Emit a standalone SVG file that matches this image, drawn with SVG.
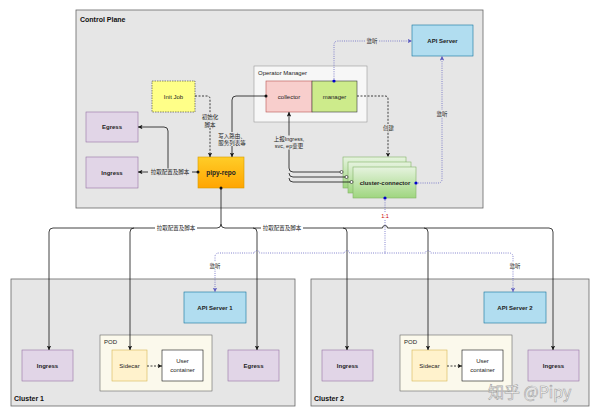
<svg xmlns="http://www.w3.org/2000/svg" width="600" height="417" viewBox="0 0 600 417">
<defs>
<style>
.t{font-family:"Liberation Sans","Noto Sans CJK SC",sans-serif;font-size:6px;fill:#222;text-anchor:middle;dominant-baseline:central}
.b{font-weight:bold}
.title{font-family:"Liberation Sans",sans-serif;font-size:7px;font-weight:bold;fill:#111}
.cjk{font-family:"Liberation Sans","Noto Sans CJK SC",sans-serif;font-size:5.5px;fill:#222;text-anchor:middle;dominant-baseline:central}
.ln{fill:none;stroke:#111;stroke-width:0.8}
.dsh{fill:none;stroke:#111;stroke-width:0.8;stroke-dasharray:2,1.5}
.dot{fill:none;stroke:#6a6ac4;stroke-width:0.9;stroke-dasharray:0.9,1.3}
.lav{fill:#e1d5e7;stroke:#9673a6;stroke-width:0.6}
.blue{fill:#b1ddf0;stroke:#10739e;stroke-width:0.6}
.grp{fill:#e6e6e6;stroke:#666;stroke-width:0.8}
</style>
<linearGradient id="gOr" x1="0" y1="0" x2="0" y2="1"><stop offset="0" stop-color="#ffcd28"/><stop offset="1" stop-color="#ffa500"/></linearGradient>
<linearGradient id="gGr" x1="0" y1="0" x2="0" y2="1"><stop offset="0" stop-color="#e6f3df"/><stop offset="1" stop-color="#9fd67f"/></linearGradient>
<marker id="arr" viewBox="0 0 8 8" refX="8" refY="4" markerWidth="4.5" markerHeight="4.5" orient="auto" markerUnits="userSpaceOnUse"><path d="M0,0 L8,4 L0,8 L2,4 z" fill="#111"/></marker>
<marker id="arrB" viewBox="0 0 8 8" refX="8" refY="4" markerWidth="4.5" markerHeight="4.5" orient="auto" markerUnits="userSpaceOnUse"><path d="M0,0 L8,4 L0,8 L2,4 z" fill="#5a5abf"/></marker>
</defs>
<rect width="600" height="417" fill="#fff"/>

<g id="control-plane"><rect class="grp" x="76" y="10" width="407" height="198"/><text class="title" x="80" y="22">Control Plane</text></g>
<g id="cluster-1"><rect class="grp" x="11" y="279" width="284" height="127"/><text class="title" x="14" y="401">Cluster 1</text></g>
<g id="cluster-2"><rect class="grp" x="311" y="279" width="278" height="127"/><text class="title" x="314" y="401">Cluster 2</text></g>

<g id="operator-manager"><rect x="254" y="66" width="113" height="56" fill="#f7f7f7" stroke="#999" stroke-width="0.6"/><text class="t" x="258" y="73" style="text-anchor:start">Operator Manager</text></g>
<g id="collector"><rect x="266" y="81" width="46" height="31" fill="#f8cecc" stroke="#b85450" stroke-width="0.6"/><text class="t" x="289" y="96.5">collector</text></g>
<g id="manager"><rect x="312" y="81" width="45" height="31" fill="#cdeb8b" stroke="#36393d" stroke-width="0.6"/><text class="t" x="334.5" y="96.5">manager</text></g>
<g id="api-server"><rect class="blue" x="412" y="25" width="61" height="31"/><text class="t b" x="442.5" y="40.5">API Server</text></g>
<g id="init-job"><rect x="152" y="81" width="43" height="31" fill="#ffff88" stroke="#36393d" stroke-width="0.6" stroke-dasharray="1.5,1"/><text class="t" x="173.5" y="96.5">Init Job</text></g>
<g id="cp-egress"><rect class="lav" x="86" y="112" width="52" height="30"/><text class="t b" x="112" y="127">Egress</text></g>
<g id="cp-ingress"><rect class="lav" x="86" y="157" width="52" height="31"/><text class="t b" x="112" y="172.5">Ingress</text></g>
<g id="pipy-repo"><rect x="198" y="157" width="46" height="31" fill="url(#gOr)" stroke="#d79b00" stroke-width="0.6"/><text class="t b" x="221" y="172.5" style="font-size:6.5px">pipy-repo</text></g>
<g id="cluster-connector">
<rect x="343" y="157" width="63" height="31" fill="url(#gGr)" stroke="#82b366" stroke-width="0.6"/>
<rect x="348" y="162" width="63" height="31" fill="url(#gGr)" stroke="#82b366" stroke-width="0.6"/>
<rect x="353" y="167" width="63" height="31" fill="url(#gGr)" stroke="#82b366" stroke-width="0.6"/>
<text class="t b" x="385" y="182.5">cluster-connector</text></g>

<g id="api-server-1"><rect class="blue" x="184" y="292" width="62" height="31"/><text class="t b" x="215" y="307.5">API Server 1</text></g>
<g id="c1-ingress"><rect class="lav" x="22" y="350" width="51" height="31"/><text class="t b" x="47.5" y="365.5">Ingress</text></g>
<g id="c1-pod"><rect x="100" y="335" width="112" height="56" fill="#fbf9ec" stroke="#666" stroke-width="0.6"/><text class="t" x="104" y="342" style="text-anchor:start">POD</text></g>
<g id="c1-sidecar"><rect x="112" y="350" width="35" height="31" fill="#fff2cc" stroke="#d6b656" stroke-width="0.6"/><text class="t" x="129.5" y="365.5">Sidecar</text></g>
<g id="c1-user"><rect x="162" y="350" width="41" height="31" fill="#fff" stroke="#111" stroke-width="0.6"/><text class="t" x="182.5" y="361">User</text><text class="t" x="182.5" y="369.5">container</text></g>
<g id="c1-egress"><rect class="lav" x="228" y="350" width="51" height="31"/><text class="t b" x="253.5" y="365.5">Egress</text></g>

<g id="api-server-2"><rect class="blue" x="484" y="292" width="62" height="31"/><text class="t b" x="515" y="307.5">API Server 2</text></g>
<g id="c2-ingress"><rect class="lav" x="322" y="350" width="51" height="31"/><text class="t b" x="347.5" y="365.5">Ingress</text></g>
<g id="c2-pod"><rect x="400" y="335" width="112" height="56" fill="#fbf9ec" stroke="#666" stroke-width="0.6"/><text class="t" x="404" y="342" style="text-anchor:start">POD</text></g>
<g id="c2-sidecar"><rect x="412" y="350" width="35" height="31" fill="#fff2cc" stroke="#d6b656" stroke-width="0.6"/><text class="t" x="429.5" y="365.5">Sidecar</text></g>
<g id="c2-user"><rect x="462" y="350" width="41" height="31" fill="#fff" stroke="#111" stroke-width="0.6"/><text class="t" x="482.5" y="361">User</text><text class="t" x="482.5" y="369.5">container</text></g>
<g id="c2-ingress-2"><rect class="lav" x="528" y="350" width="51" height="31"/><text class="t b" x="553.5" y="365.5">Ingress</text></g>

<g id="connectors">
<!-- manager -> API Server -->
<path class="dot" d="M334,81 V45 Q334,41 338,41 H412" marker-end="url(#arrB)"/>
<circle cx="334" cy="81" r="1.6" fill="#0000cc"/>
<rect x="365" y="37.5" width="14" height="7" fill="#e6e6e6"/><text class="cjk" x="372" y="41">监听</text>
<!-- cluster-connector -> API Server -->
<path class="dot" d="M416,183 H438 Q442,183 442,179 V56" marker-end="url(#arrB)"/>
<circle cx="416" cy="183" r="1.6" fill="#0000cc"/>
<rect x="435" y="110" width="14" height="7" fill="#e6e6e6"/><text class="cjk" x="442" y="113.5">监听</text>
<!-- manager -> cluster-connector -->
<path class="dsh" d="M357,96 H385 Q388,96 388,99 V157" marker-end="url(#arr)"/>
<rect x="381" y="124" width="15" height="7" fill="#e6e6e6"/><text class="cjk" x="388.5" y="127.5">创建</text>
<!-- cluster-connector -> collector -->
<path class="ln" d="M341.5,172 H293 Q289,172 289,168 V112" marker-end="url(#arr)"/>
<path class="ln" d="M346.5,177 H293 Q289,177 289,173"/>
<path class="ln" d="M351.5,182 H293 Q289,182 289,178"/>
<circle cx="341.5" cy="172" r="1.5" fill="#fff" stroke="#111" stroke-width="0.6"/>
<circle cx="346.5" cy="177" r="1.5" fill="#fff" stroke="#111" stroke-width="0.6"/>
<circle cx="351.5" cy="182" r="1.5" fill="#fff" stroke="#111" stroke-width="0.6"/>
<rect x="271" y="135.5" width="36" height="14" fill="#e6e6e6"/>
<text class="cjk" x="289" y="139">上报Ingress,</text><text class="cjk" x="289" y="146">svc, ep变更</text>
<!-- collector -> pipy-repo -->
<path class="ln" d="M266,96 H236 Q232,96 232,100 V157" marker-end="url(#arr)"/>
<circle cx="266" cy="96" r="1.5" fill="#111"/>
<rect x="217" y="132" width="30" height="14" fill="#e6e6e6"/>
<text class="cjk" x="232" y="136">写入路由、</text><text class="cjk" x="232" y="143">服务列表等</text>
<!-- init job -> pipy-repo -->
<path class="dsh" d="M195,96 H207 Q210,96 210,99 V157" marker-end="url(#arr)"/>
<rect x="201" y="112.5" width="18" height="15" fill="#e6e6e6"/>
<text class="cjk" x="210" y="116.5">初始化</text><text class="cjk" x="210" y="124.5">脚本</text>
<!-- pipy-repo -> ingress/egress -->
<path class="ln" d="M198,172 H138" marker-end="url(#arr)"/>
<path class="ln" d="M168,172 V131 Q168,127 164,127 H138" marker-end="url(#arr)"/>
<circle cx="198" cy="172" r="1.5" fill="#111"/>
<rect x="148" y="168.5" width="44" height="7" fill="#e6e6e6"/><text class="cjk" x="170" y="172">拉取配置及脚本</text>
<!-- pipy-repo -> clusters -->
<path class="ln" d="M221,188 V224 Q221,228 217,228 H53 Q49,228 49,232 V350" marker-end="url(#arr)"/>
<path class="ln" d="M134,228 Q130,228 130,232 V350" marker-end="url(#arr)"/>
<path class="ln" d="M221,224 Q221,228 225,228 H382.5 A2.5,2.5 0 0 1 387.5,228 H549 Q553,228 553,232 V350" marker-end="url(#arr)"/>
<path class="ln" d="M253,228 Q257,228 257,232 V350" marker-end="url(#arr)"/>
<path class="ln" d="M343,228 Q347,228 347,232 V350" marker-end="url(#arr)"/>
<path class="ln" d="M424,228 Q428,228 428,232 V350" marker-end="url(#arr)"/>
<circle cx="221" cy="188" r="1.5" fill="#111"/>
<rect x="155" y="224.5" width="42" height="7" fill="#fff"/><text class="cjk" x="176" y="228">拉取配置及脚本</text>
<rect x="261" y="224.5" width="42" height="7" fill="#fff"/><text class="cjk" x="282" y="228">拉取配置及脚本</text>
<!-- cluster-connector -> API Servers 1/2 -->
<path class="dot" d="M385,198 V253"/>
<circle cx="385" cy="198" r="1.6" fill="#0000cc"/>
<rect x="378" y="212.5" width="14" height="7" fill="#fff"/><text class="cjk" x="385" y="216" style="fill:#cc0000">1:1</text>
<path class="dot" d="M385,253 H425.5 A2.5,2.5 0 0 1 430.5,253 H509 Q513,253 513,257 V292" marker-end="url(#arrB)"/>
<path class="dot" d="M385,253 H349.5 A2.5,2.5 0 0 0 344.5,253 H259.5 A2.5,2.5 0 0 0 254.5,253 H219 Q215,253 215,257 V292" marker-end="url(#arrB)"/>
<rect x="208" y="262" width="14" height="7" fill="#fff"/><text class="cjk" x="215" y="265.5">监听</text>
<rect x="508" y="262" width="14" height="7" fill="#fff"/><text class="cjk" x="515" y="265.5">监听</text>
<!-- sidecar -> user container -->
<path class="dsh" d="M147,366 H162" marker-end="url(#arr)"/>
<path class="dsh" d="M447,366 H462" marker-end="url(#arr)"/>
</g>

<text x="488" y="398" style="font-family:'Noto Sans CJK SC','Liberation Sans',sans-serif;font-size:16px;fill:#fff;stroke:#999;stroke-width:0.6;opacity:0.9">知乎 @Pipy</text>
</svg>
